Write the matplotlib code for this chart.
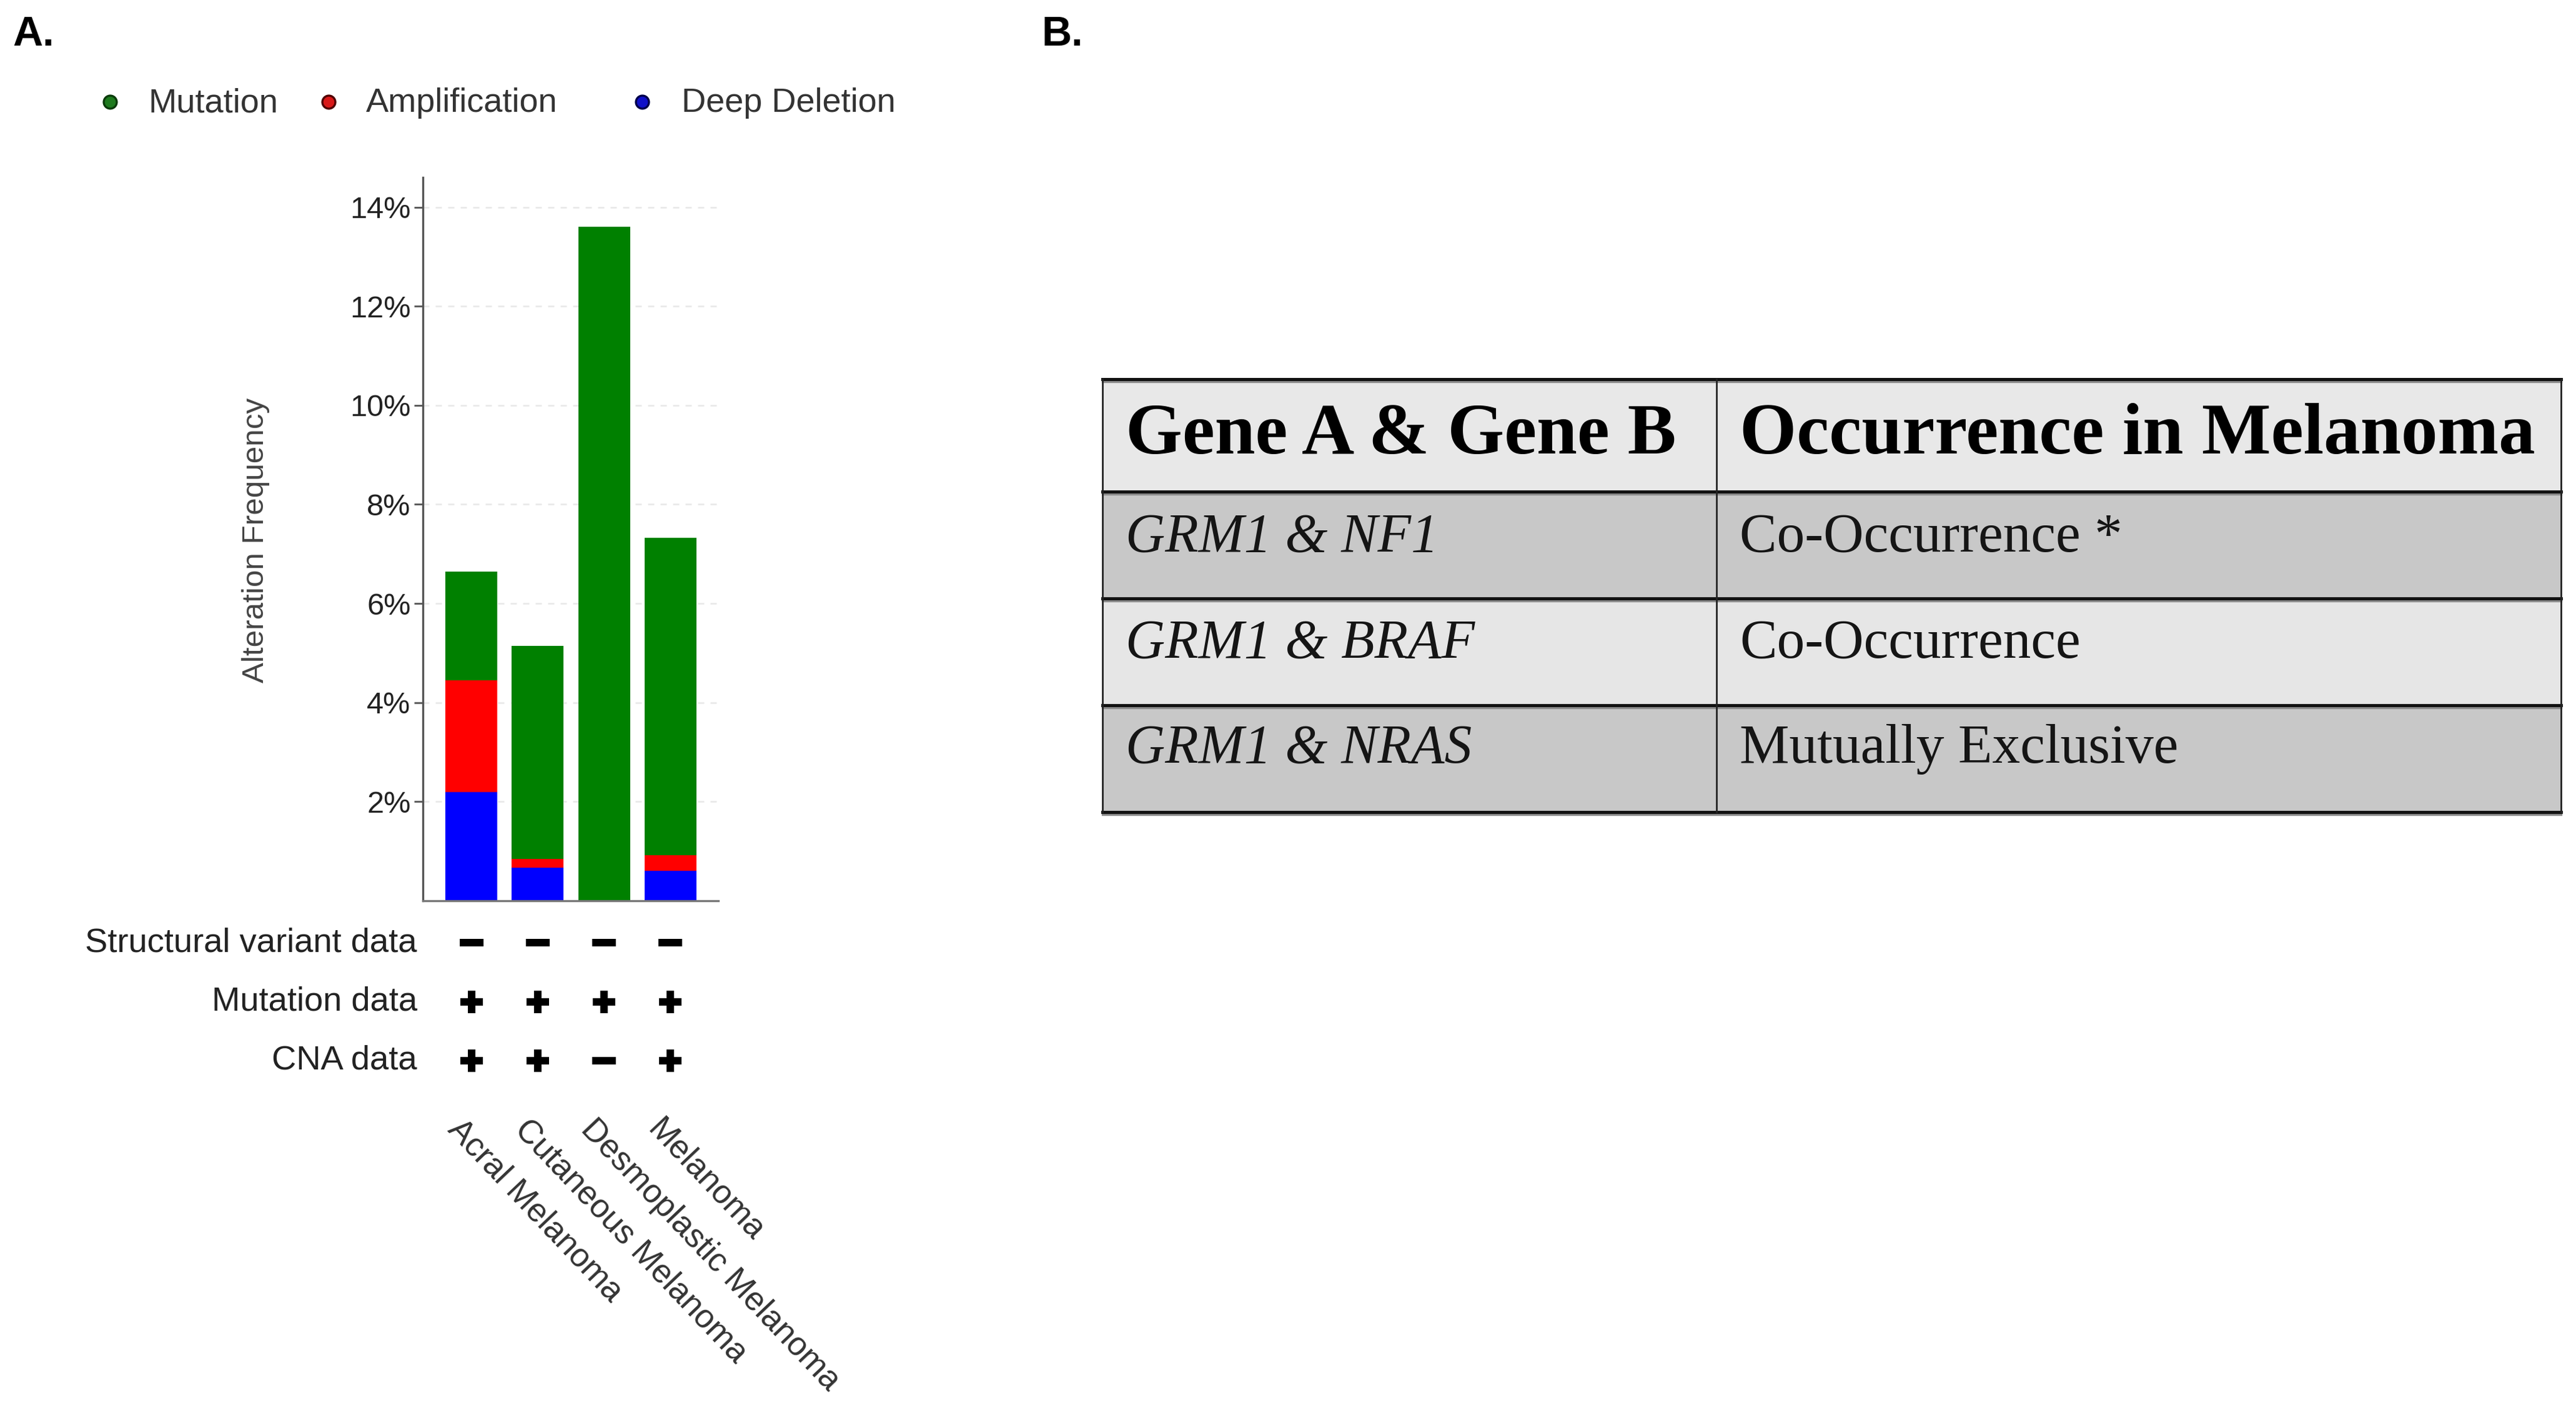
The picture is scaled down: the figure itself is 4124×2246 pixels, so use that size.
import matplotlib
matplotlib.use('Agg')
import matplotlib.pyplot as plt
from matplotlib.lines import Line2D
from matplotlib.patches import Rectangle
import matplotlib.transforms as mtransforms
import numpy as np

# ---------------- data ----------------
categories = ['Acral Melanoma', 'Cutaneous Melanoma', 'Desmoplastic Melanoma', 'Melanoma']
deep_deletion = [2.20, 0.67, 0.00, 0.60]
amplification = [2.25, 0.17, 0.00, 0.32]
mutation = [2.20, 4.30, 13.60, 6.40]
yticks = [2, 4, 6, 8, 10, 12, 14]
ytick_labels = ['2%', '4%', '6%', '8%', '10%', '12%', '14%']
legend_labels = ['Mutation', 'Amplification', 'Deep Deletion']

row_labels = ['Structural variant data', 'Mutation data', 'CNA data']
sv_data = ['-', '-', '-', '-']
mut_data = ['+', '+', '+', '+']
cna_data = ['+', '+', '-', '+']

table_header = ['Gene A & Gene B', 'Occurrence in Melanoma']
gene_pairs = ['GRM1 & NF1', 'GRM1 & BRAF', 'GRM1 & NRAS']
occurrence = ['Co-Occurrence *', 'Co-Occurrence', 'Mutually Exclusive']

# ---------------- figure ----------------
W, H = 4124, 2246
DPI = 200
fig = plt.figure(figsize=(W / DPI, H / DPI), dpi=DPI)
fig.patch.set_facecolor('white')
SANS = ['Liberation Sans', 'DejaVu Sans']
SERIF = ['Liberation Serif', 'DejaVu Serif']


def fx(px):
    return px / W


def fy(py):
    return 1 - py / H


# panel labels
fig.text(fx(20), fy(56), 'A.', fontsize=24, fontweight='bold', family=SANS, ha='left', va='center')
fig.text(fx(1668), fy(56), 'B.', fontsize=24, fontweight='bold', family=SANS, ha='left', va='center')

# legend
c_mut, c_amp, c_del = '#008000', '#FF0000', '#0000FF'
leg_colors = [('#1e7a1e', '#0b3b0b'), ('#d81818', '#500000'), ('#1010c8', '#00004a')]
leg_marker_x = [176, 526, 1028]
leg_text_x = [237, 586, 1091]
for lab, (fc, ec), mx, tx in zip(legend_labels, leg_colors, leg_marker_x, leg_text_x):
    fig.add_artist(Line2D([fx(mx)], [fy(163)], marker='o', markersize=7.5, markerfacecolor=fc,
                          markeredgecolor=ec, markeredgewidth=1.2, linestyle='none',
                          transform=fig.transFigure))
    fig.text(fx(tx), fy(165), lab, fontsize=19.5, family=SANS, color='#333333', ha='left', va='center')

# bar axes
ax = fig.add_axes([fx(677), fy(1442), fx(1150) - fx(677), (1442 - 284) / H])
x = np.arange(len(categories))
bw = 0.78
dd = np.array(deep_deletion)
am = np.array(amplification)
mu = np.array(mutation)
ax.bar(x, dd, width=bw, color=c_del, linewidth=0, zorder=2)
ax.bar(x, am, width=bw, bottom=dd, color=c_amp, linewidth=0, zorder=2)
ax.bar(x, mu, width=bw, bottom=dd + am, color=c_mut, linewidth=0, zorder=2)
ax.set_xlim(-0.73, 3.72)
ax.set_ylim(0, 14.6)
ax.set_xticks([])
ax.set_yticks(yticks)
ax.set_yticklabels(ytick_labels, fontsize=17.5, family=SANS, color='#222222')
ax.tick_params(axis='y', length=5, width=1.0, color='#555555', pad=2)
for s in ['top', 'right']:
    ax.spines[s].set_visible(False)
ax.spines['left'].set_color('#555555')
ax.spines['left'].set_linewidth(1.2)
ax.spines['bottom'].set_color('#777777')
ax.spines['bottom'].set_linewidth(1.2)
ax.yaxis.grid(True, linestyle=(0, (4, 4)), color='#e8e8e8', linewidth=0.9)
ax.set_axisbelow(True)

fig.text(fx(409), fy(865), 'Alteration Frequency', rotation=90, fontsize=17.8, family=SANS,
         color='#444444', ha='center', va='center')

# data availability rows
trans = mtransforms.blended_transform_factory(ax.transData, fig.transFigure)
row_y = [1509, 1604, 1698]
minus_marker = [(-1, -0.34), (1, -0.34), (1, 0.34), (-1, 0.34), (-1, -0.34)]
for lab, vals, ry in zip(row_labels, [sv_data, mut_data, cna_data], row_y):
    fig.text(fx(668), fy(ry), lab, fontsize=19.6, family=SANS, color='#222222', ha='right', va='center')
    for xi, v in zip(x, vals):
        if v == '+':
            ax.plot([xi], [fy(ry)], marker='P', markersize=13, color='black', markeredgewidth=0,
                    linestyle='none', transform=trans, clip_on=False)
        else:
            ax.plot([xi], [fy(ry)], marker=minus_marker, markersize=13.5, color='black',
                    markeredgewidth=0, linestyle='none', transform=trans, clip_on=False)

# rotated category labels
for xi, cat in zip(x, categories):
    ax.text(xi - 0.27, fy(1800), cat, rotation=-46.5, rotation_mode='anchor', ha='left', va='center',
            fontsize=19, family=SANS, color='#333333', transform=trans, clip_on=False)

# ---------------- table ----------------
tx0, tx1, ty0, ty1 = 1765, 4100, 607, 1300
tab = fig.add_axes([fx(tx0), fy(ty1), (tx1 - tx0) / W, (ty1 - ty0) / H])
tab.set_xlim(0, 1)
tab.set_ylim(0, 1)
tab.axis('off')
bounds = [1.0, 0.7403, 0.4935, 0.2468, 0.0]
fills = ['#e8e8e8', '#c8c8c8', '#e6e6e6', '#c8c8c8']
for i, fc in enumerate(fills):
    tab.add_patch(Rectangle((0, bounds[i + 1]), 1, bounds[i] - bounds[i + 1], facecolor=fc,
                            edgecolor='none', zorder=0))
for yb in bounds:
    tab.plot([0, 1], [yb - 0.006, yb - 0.006], color='#8a8a8a', lw=1.2, clip_on=False, zorder=2)
    tab.plot([0, 1], [yb, yb], color='#111111', lw=1.8, clip_on=False, zorder=3)
for xb in [0.0, 0.421, 1.0]:
    tab.plot([xb, xb], [0, 1], color='#222222', lw=1.0, clip_on=False, zorder=3)

col_x = [0.0158, 0.4368]
tab.text(col_x[0], 0.828, table_header[0], fontsize=42, fontweight='bold', family=SERIF,
         ha='left', va='baseline', color='black')
tab.text(col_x[1], 0.828, table_header[1], fontsize=42.2, fontweight='bold', family=SERIF,
         ha='left', va='baseline', color='black')
base_y = [0.603, 0.357, 0.114]
for gp, oc, by in zip(gene_pairs, occurrence, base_y):
    tab.text(col_x[0], by, gp, fontsize=31.5, style='italic', family=SERIF, ha='left', va='baseline',
             color='#151515')
    tab.text(col_x[1], by, oc, fontsize=32.2, family=SERIF, ha='left', va='baseline', color='#151515')

fig.savefig('out.png', dpi=DPI, facecolor='white')
